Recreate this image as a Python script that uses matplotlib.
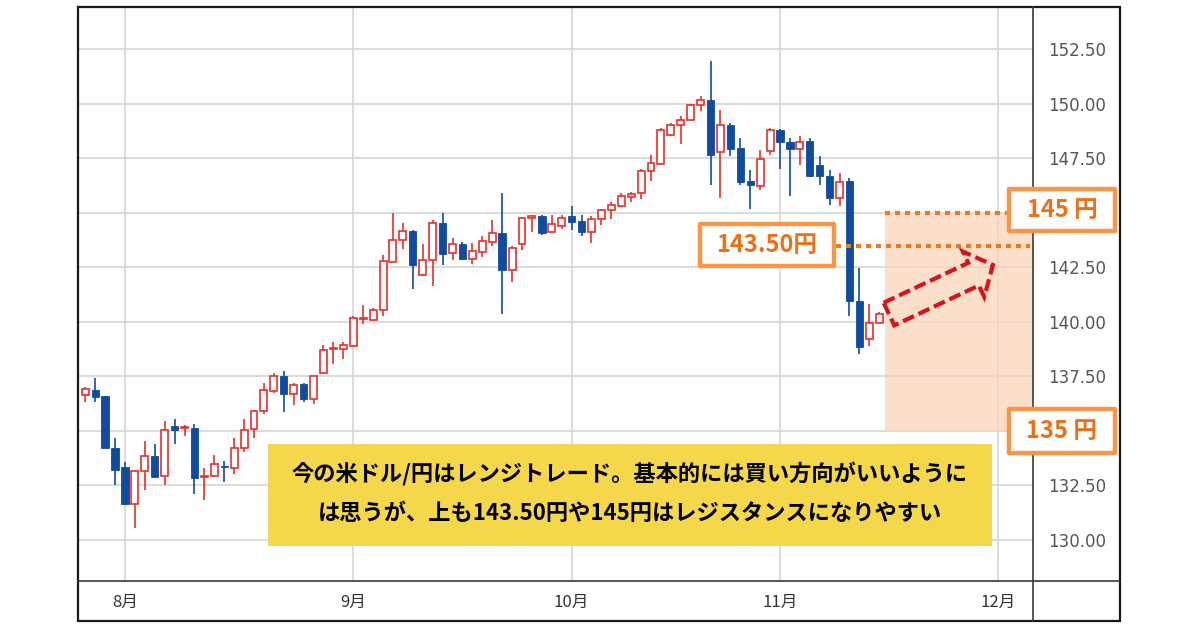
import numpy as np
import pandas as pd
import matplotlib
matplotlib.use("Agg")
import matplotlib.pyplot as plt
from matplotlib.patches import Rectangle, Polygon
from matplotlib.lines import Line2D

plt.rcParams['font.family'] = ['Noto Sans CJK JP', 'DejaVu Sans']

# ---------------- data (USD/JPY daily candles) ----------------
start_date = "2022-07-26"
open_ = [136.67, 136.89, 136.59, 134.24, 133.33, 131.64, 133.15, 133.86, 132.95, 135.23,
         135.12, 135.15, 132.88, 132.95, 133.41, 133.30, 134.24, 135.08, 135.91, 136.85,
         137.50, 136.70, 137.14, 136.47, 137.65, 138.75, 138.75, 138.90, 140.13, 140.07,
         140.56, 142.75, 143.77, 144.16, 142.14, 142.83, 144.54, 143.16, 143.55, 142.90,
         143.21, 143.67, 144.08, 142.39, 143.56, 144.77, 144.85, 144.14, 144.42, 144.85,
         144.62, 144.14, 144.70, 145.12, 145.30, 145.73, 145.91, 146.91, 147.26, 148.58,
         149.01, 149.27, 149.95, 150.18, 147.79, 149.04, 147.97, 146.45, 146.22, 147.82,
         148.81, 148.25, 147.94, 148.28, 147.21, 146.68, 145.69, 146.45, 140.96, 139.21,
         139.97]
high = [137.00, 137.45, 136.62, 134.70, 133.56, 133.20, 134.55, 134.39, 135.45, 135.53,
        135.26, 135.30, 133.30, 133.89, 133.64, 134.70, 135.53, 135.95, 137.20, 137.65,
        137.73, 137.22, 137.22, 137.52, 138.95, 139.06, 139.10, 140.25, 140.79, 140.64,
        143.09, 145.00, 144.54, 144.20, 143.58, 144.69, 145.00, 143.85, 143.67, 143.62,
        143.93, 144.69, 145.90, 143.48, 144.80, 144.92, 144.92, 144.88, 144.88, 145.33,
        144.92, 144.85, 145.20, 145.48, 145.91, 145.94, 147.00, 147.67, 148.89, 149.12,
        149.42, 149.98, 150.34, 151.97, 149.73, 149.12, 148.43, 146.98, 147.90, 148.89,
        148.83, 148.43, 148.51, 148.43, 147.59, 146.98, 146.83, 146.60, 142.48, 140.81,
        140.47]
low = [136.35, 136.33, 134.20, 132.50, 131.60, 130.53, 132.30, 132.85, 132.50, 134.42,
       134.77, 132.09, 131.82, 132.91, 132.65, 133.03, 134.02, 134.70, 135.76, 136.73,
       135.86, 136.19, 136.32, 136.24, 137.62, 138.08, 138.29, 138.87, 139.92, 140.02,
       140.28, 142.73, 143.35, 141.51, 142.10, 141.66, 142.60, 142.83, 142.88, 142.67,
       142.98, 143.47, 140.37, 141.85, 143.30, 144.12, 143.97, 144.12, 144.27, 144.21,
       143.94, 143.61, 144.44, 144.73, 145.25, 145.48, 145.64, 146.48, 147.19, 148.51,
       148.16, 149.19, 149.65, 146.27, 145.66, 147.59, 146.30, 145.20, 146.07, 147.67,
       147.03, 145.76, 147.21, 146.66, 146.30, 145.35, 145.30, 140.27, 138.52, 138.90,
       139.95]
close = [136.92, 136.56, 134.21, 133.21, 131.64, 133.18, 133.86, 132.91, 135.05, 135.05,
         135.18, 132.85, 132.92, 133.48, 133.33, 134.21, 135.05, 135.91, 136.89, 137.50,
         136.70, 137.11, 136.47, 137.50, 138.69, 138.80, 138.95, 140.20, 140.18, 140.56,
         142.78, 143.77, 144.16, 142.60, 142.86, 144.54, 143.13, 143.55, 142.90, 143.24,
         143.70, 144.08, 142.37, 143.41, 144.77, 144.85, 144.09, 144.47, 144.77, 144.59,
         144.12, 144.70, 145.12, 145.38, 145.76, 145.88, 146.94, 147.29, 148.81, 149.04,
         149.24, 149.95, 150.18, 147.64, 149.04, 147.94, 146.42, 146.30, 147.48, 148.81,
         148.25, 147.94, 148.25, 146.68, 146.68, 145.66, 146.42, 140.96, 138.83, 139.97,
         140.35]

y_ticks = [130.0, 132.5, 135.0, 137.5, 140.0, 142.5, 145.0, 147.5, 150.0, 152.5]
month_labels = ["8月", "9月", "10月", "11月", "12月"]
resistance_levels = [143.50, 145.0]
range_low, range_high = 135.0, 145.0
arrow_start = (80.98, 140.36)
arrow_end = (91.46, 142.61)
comment_lines = ["今の米ドル/円はレンジトレード。基本的には買い方向がいいように",
                 "は思うが、上も143.50円や145円はレジスタンスになりやすい"]

# ---------------- styling ----------------
RED = '#e9302a'
BLUE = '#0f4c9e'
GRID = '#d6d6d6'
ORANGE_LINE = '#f0781e'
ORANGE_BOX = '#f79646'
ORANGE_TEXT = '#ef6f16'
YELLOW = '#f5d74b'

W, H = 1200, 630
fig = plt.figure(figsize=(W / 100, H / 100), dpi=100)
fig.patch.set_facecolor('white')


def fx(px):
    return px / W


def fy(py):
    return 1 - py / H


ax_l, ax_r, ax_t, ax_b = 78, 1033, 7, 581
ax = fig.add_axes([fx(ax_l), fy(ax_b), (ax_r - ax_l) / W, (ax_b - ax_t) / H])
ax.set_facecolor('white')
for s in ax.spines.values():
    s.set_visible(False)

o = np.array(open_)
h = np.array(high)
l = np.array(low)
c = np.array(close)
n = len(c)
x = np.arange(n)

# business-day calendar for month ticks
cal = pd.bdate_range(start_date, "2022-12-31")
month_idx = [i for i in range(1, len(cal)) if cal[i].month != cal[i - 1].month]
month_idx = month_idx[:len(month_labels)]

ax.set_xlim(-0.735, 95.49)
ax.set_ylim(128.12, 154.44)

# grid + ticks (labels at 135/145 are covered by the boxes in the reference)
covered = (range_low, range_high)
ax.set_yticks(y_ticks)
ax.set_yticklabels(["" if v in covered else f"{v:.2f}" for v in y_ticks])
ax.set_xticks(month_idx)
ax.set_xticklabels(month_labels)
ax.grid(True, color=GRID, linewidth=1.2, zorder=0)
ax.set_axisbelow(True)
ax.yaxis.tick_right()
ax.tick_params(axis='y', length=0, pad=11, labelsize=12, labelcolor='#555555')
for t in ax.get_yticklabels():
    t.set_fontfamily('DejaVu Sans')
ax.tick_params(axis='x', length=0, pad=9, labelsize=12, labelcolor='#333333')

# candles
up = c >= o
dn = ~up
ax.vlines(x[up], l[up], h[up], color=RED, linewidth=1.2, zorder=2)
ax.vlines(x[dn], l[dn], h[dn], color=BLUE, linewidth=1.2, zorder=2)
ax.bar(x[up], c[up] - o[up], bottom=o[up], width=0.7, facecolor='white',
       edgecolor=RED, linewidth=1.2, zorder=3)
ax.bar(x[dn], c[dn] - o[dn], bottom=o[dn], width=0.74, facecolor=BLUE,
       edgecolor=BLUE, linewidth=0.6, zorder=3)

# range shading
zone_x0 = x[-1] + 0.6
ax.add_patch(Rectangle((zone_x0, range_low), ax.get_xlim()[1] - zone_x0,
                       range_high - range_low, facecolor='#fbd3b8', alpha=0.72,
                       edgecolor='none', zorder=1))

# dotted resistance lines
lw_dot = 3.0
ax.hlines(resistance_levels[1], zone_x0, 93.5, colors=ORANGE_LINE, linewidth=lw_dot,
          linestyles=(0, (1.2, 1.2)), zorder=4)
ax.hlines(resistance_levels[0], 75.6, 95.2, colors=ORANGE_LINE, linewidth=lw_dot,
          linestyles=(0, (1.2, 1.2)), zorder=4)

# dashed block arrow (built in display space)
p0 = ax.transData.transform(arrow_start)
p1 = ax.transData.transform(arrow_end)
v = p1 - p0
L = np.hypot(*v)
u = v / L
nv = np.array([-u[1], u[0]])
sw, hw, hl = 12.5, 25.0, 21.5
neck = p0 + (L - hl) * u
pts_disp = [p0 + sw * nv, neck + sw * nv, neck + hw * nv, p1,
            neck - hw * nv, neck - sw * nv, p0 - sw * nv]
pts_fig = fig.transFigure.inverted().transform(np.array(pts_disp))
fig.add_artist(Polygon(pts_fig, closed=True, fill=False, edgecolor='#d7141a',
                       linewidth=3.0, linestyle=(0, (2.9, 1.2)), joinstyle='miter',
                       transform=fig.transFigure, zorder=4))

# frame lines
fig.add_artist(Rectangle((fx(78), fy(621)), (1120 - 78) / W, (621 - 7) / H, fill=False,
                         edgecolor='#1a1a1a', linewidth=1.6, transform=fig.transFigure,
                         zorder=2))
fig.add_artist(Line2D([fx(1033), fx(1033)], [fy(7), fy(621)], color='#3a3a3a',
                      linewidth=1.2, transform=fig.transFigure, zorder=2))
fig.add_artist(Line2D([fx(78), fx(1120)], [fy(581), fy(581)], color='#3a3a3a',
                      linewidth=1.2, transform=fig.transFigure, zorder=2))


# label boxes
def label_box(x0, y0, x1, y1, text):
    fig.add_artist(Rectangle((fx(x0), fy(y1)), (x1 - x0) / W, (y1 - y0) / H,
                             facecolor='white', edgecolor=ORANGE_BOX, linewidth=3.2,
                             joinstyle='round', transform=fig.transFigure, zorder=5))
    fig.text(fx((x0 + x1) / 2), fy((y0 + y1) / 2), text, ha='center', va='center',
             fontsize=17, fontweight='bold', color=ORANGE_TEXT, zorder=6)


label_box(700, 224, 834, 266, "143.50円")
label_box(1009, 189, 1115, 231, "145 円")
label_box(1009, 409, 1115, 453, "135 円")

# yellow comment box
fig.add_artist(Rectangle((fx(268), fy(546)), (992 - 268) / W, (546 - 444) / H,
                         facecolor=YELLOW, edgecolor='none', transform=fig.transFigure,
                         zorder=5))
fig.text(fx(630), fy(474), comment_lines[0], ha='center', va='center', fontsize=16,
         fontweight='bold', color='black', zorder=6)
fig.text(fx(630), fy(513), comment_lines[1], ha='center', va='center', fontsize=16,
         fontweight='bold', color='black', zorder=6)

fig.savefig("out.png", dpi=100, facecolor='white')
